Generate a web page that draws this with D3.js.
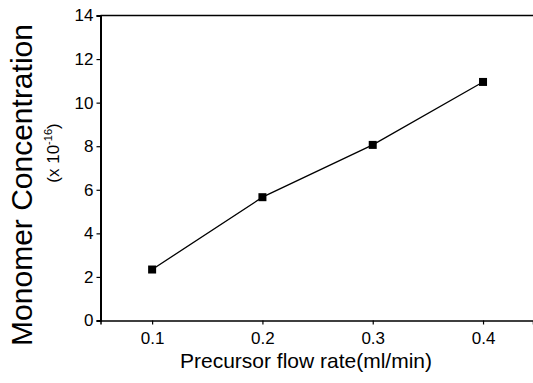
<!DOCTYPE html>
<html><head><meta charset="utf-8">
<script src="https://cdn.jsdelivr.net/npm/d3@7"></script>
<style>body{margin:0;background:#fff}svg{display:block}text{font-family:Arial,"Liberation Sans",sans-serif;fill:#000}</style>
</head><body><svg id="c" width="533" height="383"></svg>
<script>
const flowRates = [0.1, 0.2, 0.3, 0.4];
const concentrations = [2.34, 5.66, 8.06, 10.95];
const xTicks = [0.1, 0.2, 0.3, 0.4];
const yTicks = [0, 2, 4, 6, 8, 10, 12, 14];

const svg = d3.select("#c");
const x = d3.scaleLinear().domain([0.0532, 0.4453]).range([100.5, 533]);
const y = d3.scaleLinear().domain([0, 14]).range([320.5, 15.5]);

svg.append("line").attr("x1", 100.5).attr("x2", 533).attr("y1", y(14)).attr("y2", y(14))
  .attr("stroke", "#000").attr("stroke-width", 1.5);

const xa = svg.append("g").attr("transform", `translate(0,${y(0)})`)
  .call(d3.axisBottom(x).tickValues(xTicks).tickFormat(d3.format(".1f")).tickSizeOuter(0).tickSize(4).tickPadding(7));
const ya = svg.append("g").attr("transform", `translate(${x.range()[0]},0)`)
  .call(d3.axisLeft(y).tickValues(yTicks).tickSizeOuter(0).tickSize(4).tickPadding(3));
[xa, ya].forEach(g => {
  g.attr("font-size", null).attr("font-family", null);
  g.selectAll("line").attr("stroke-width", 1.2);
  g.selectAll("text").style("font-size", "17px").style("font-family", "Arial, 'Liberation Sans', sans-serif");
});
xa.select(".domain").attr("stroke-width", 1.5);
ya.select(".domain").attr("stroke-width", 2);

svg.append("path").datum(flowRates.map((f, i) => [f, concentrations[i]]))
  .attr("fill", "none").attr("stroke", "#000").attr("stroke-width", 1.3)
  .attr("d", d3.line().x(d => x(d[0])).y(d => y(d[1])));

svg.selectAll("rect.m").data(flowRates).enter().append("rect").attr("class", "m")
  .attr("x", (d) => x(d) - 4).attr("y", (d, i) => y(concentrations[i]) - 4)
  .attr("width", 8).attr("height", 8).attr("fill", "#000");

svg.append("text").attr("x", 306).attr("y", 368).attr("text-anchor", "middle")
  .style("font-size", "21px").text("Precursor flow rate(ml/min)");

svg.append("text").attr("transform", "translate(32,185) rotate(-90)").attr("text-anchor", "middle")
  .style("font-size", "30px").text("Monomer Concentration");
const t2 = svg.append("text").attr("transform", "translate(59,153) rotate(-90)").attr("text-anchor", "middle")
  .style("font-size", "17px");
t2.append("tspan").text("(x 10");
t2.append("tspan").attr("dy", -7).style("font-size", "11px").text("-16");
t2.append("tspan").attr("dy", 7).text(")");
</script></body></html>
